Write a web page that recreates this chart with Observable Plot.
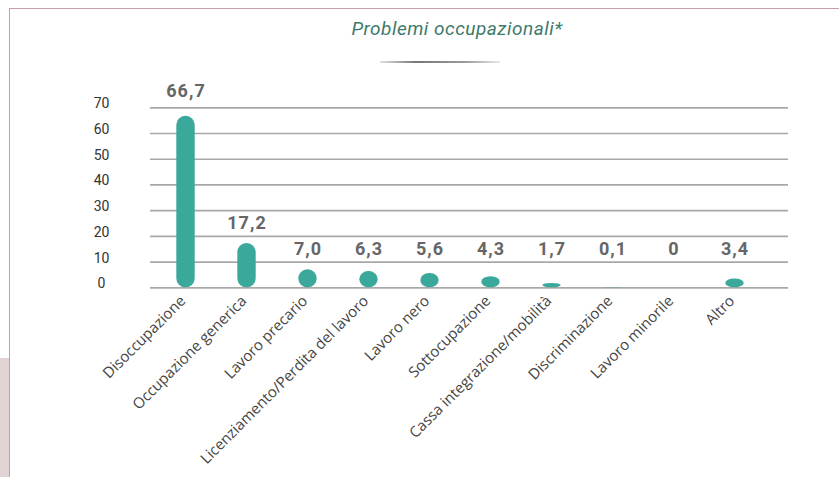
<!DOCTYPE html>
<html>
<head>
<meta charset="utf-8">
<script src="https://cdn.jsdelivr.net/npm/d3@7"></script>
<script src="https://cdn.jsdelivr.net/npm/@observablehq/plot@0.6"></script>
<style>
  html, body { margin: 0; padding: 0; background: #fff; }
  #wrap { position: relative; width: 839px; height: 477px; overflow: hidden; }
  #chart { position: absolute; left: 0; top: 0; }
  .title { position: absolute; left: 0; width: 914px; top: 17px; text-align: center;
    font-family: Roboto, sans-serif; font-style: italic; font-size: 19px; color: #3c7a6c; letter-spacing: 0.5px; }
  .rule { position: absolute; left: 380px; top: 61px; width: 120px; height: 2px;
    background: linear-gradient(to right, rgba(150,150,150,0.3), #777 30%, #999 70%, rgba(180,180,180,0.3)); }
  .frame { position: absolute; left: 9px; top: 8px; right: -2px; bottom: -2px;
    border-top: 1px solid #c4a1a6; border-left: 1.5px solid #c4a1a6; }
  .side { position: absolute; left: 0; top: 358px; width: 9px; height: 119px; background: #e1d2d3; }
</style>
</head>
<body>
<div id="wrap">
  <div id="chart"></div>
  <div class="side"></div>
  <div class="frame"></div>
  <div class="title">Problemi occupazionali*</div>
  <div class="rule"></div>
</div>
<script>
const categories = ["Disoccupazione", "Occupazione generica", "Lavoro precario", "Licenziamento/Perdita del lavoro", "Lavoro nero", "Sottocupazione", "Cassa integrazione/mobilità", "Discriminazione", "Lavoro minorile", "Altro"];
const values = [66.7, 17.2, 7.0, 6.3, 5.6, 4.3, 1.7, 0.1, 0, 3.4];
const valueLabels = ["66,7", "17,2", "7,0", "6,3", "5,6", "4,3", "1,7", "0,1", "0", "3,4"];
const yTicks = [0, 10, 20, 30, 40, 50, 60, 70];

const data = categories.map((c, i) => ({category: c, value: values[i], label: valueLabels[i]}));

const plot = Plot.plot({
  width: 839,
  height: 477,
  marginLeft: 150,
  marginRight: 51,
  marginTop: 100,
  marginBottom: 190,
  style: {background: "transparent", fontFamily: "Roboto, sans-serif"},
  x: {domain: categories, range: [151, 768], padding: 0, label: null},
  y: {domain: [0, 70], range: [287.3, 107.3], label: null},
  marks: [
    Plot.ruleY(yTicks, {stroke: "#a8a8a8", strokeWidth: 1.7}),
    Plot.barY(data, {x: "category", y: "value", fill: "#3aa89b", insetLeft: 21.3, insetRight: 21.3, rx: 9}),
    Plot.text(data, {x: "category", y: d => Math.max(d.value * 1.044 + 7.0, 14.9), text: "label",
      fill: "#666", fontWeight: "bold", fontSize: 18, lineAnchor: "middle"}),
    Plot.axisY(yTicks, {tickSize: 0, tickPadding: 0, dx: -49, dy: -4, textAnchor: "middle", fontSize: 14, fill: "#333", label: null}),
    Plot.axisX({tickSize: 0, tickRotate: -45, fontSize: 15, fontFamily: "'Open Sans', sans-serif", fill: "#444", label: null, tickPadding: 6, dx: -3, dy: 5})
  ]
});
document.getElementById("chart").appendChild(plot);
d3.select(plot).selectAll("g[aria-label=text] text").style("letter-spacing", "1px");
</script>
</body>
</html>
